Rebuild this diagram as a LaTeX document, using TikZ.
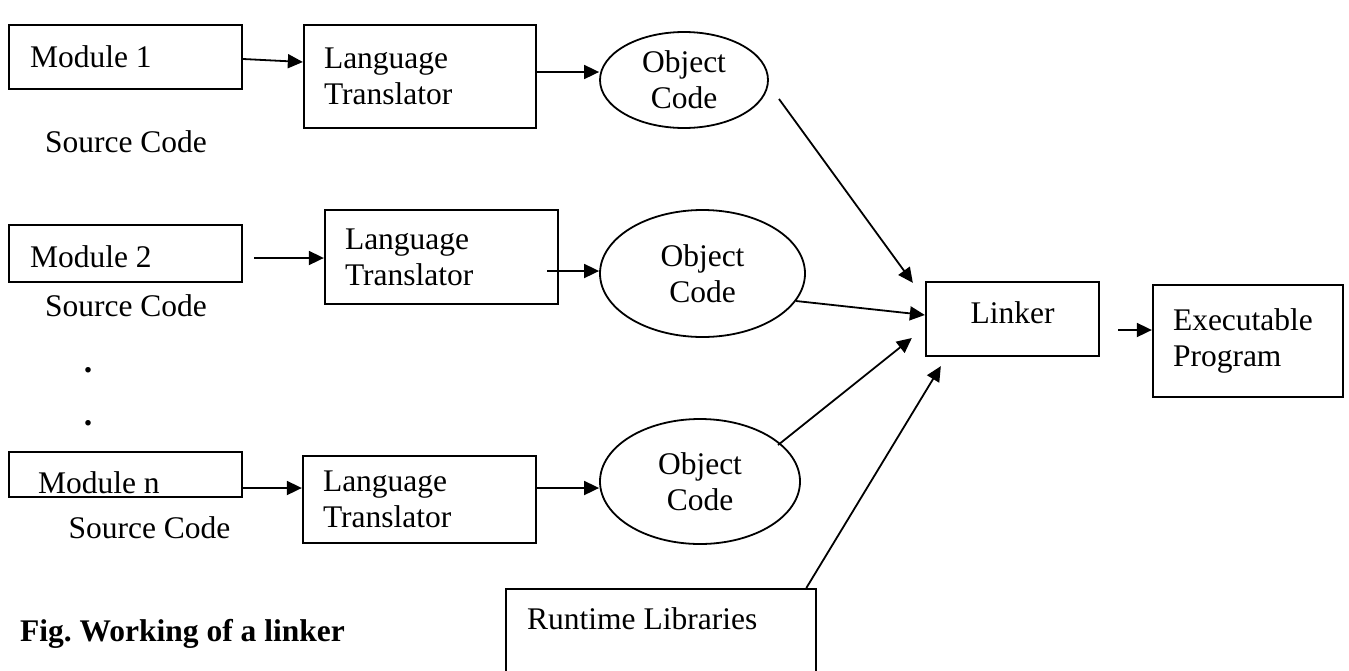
\documentclass[tikz,border=0pt]{standalone}
\usepackage{fontspec}
\setmainfont{Liberation Serif}
\usetikzlibrary{shapes.geometric,arrows.meta,calc}

\tikzset{
  txt/.style={font=\fontsize{31.5pt}{36pt}\selectfont\frenchspacing},
  box/.style={txt, draw, line width=2.3pt, rectangle, inner ysep=0pt, align=flush left},
  objcode/.style={txt, draw, ellipse, line width=1.8pt, inner sep=0pt, align=flush center},
  lbl/.style={txt, inner sep=0pt},
  conn/.style={line width=1.8pt, -{Triangle[length=15pt,width=14pt]}},
}

\begin{document}
\begin{tikzpicture}[x=1pt,y=-1pt]
  \useasboundingbox[fill=white] (0,0) rectangle (1349,670);

  % source modules
  \node[box, text width=191pt, inner xsep=21pt, minimum height=64pt] (m1) at (125.5,57) {Module 1};
  \node[box, text width=191pt, inner xsep=21pt, minimum height=57pt, text height=28pt] (m2) at (125.5,253.5) {Module 2};
  \node[box, text width=175pt, inner xsep=29pt, minimum height=45pt, text height=38pt] (mn) at (125.5,474.5) {Module n};

  \node[lbl] (sc1) at (126,142) {Source Code};
  \node[lbl] (sc2) at (126,306) {Source Code};
  \node[lbl] (scn) at (149.5,528) {Source Code};

  \node[lbl, font=\fontsize{34pt}{36pt}\selectfont\bfseries] (dot1) at (88,370) {.};
  \node[lbl, font=\fontsize{34pt}{36pt}\selectfont\bfseries] (dot2) at (88,423) {.};

  % translators
  \node[box, text width=192pt, inner xsep=20pt, minimum height=103pt] (lt1) at (420,76.5) {Language\\Translator};
  \node[box, text width=193pt, inner xsep=20pt, minimum height=94pt] (lt2) at (441.5,257) {Language\\Translator};
  \node[box, text width=193pt, inner xsep=20pt, minimum height=87pt] (ltn) at (419.5,499.5) {Language\\Translator};

  % object code
  \node[objcode, minimum width=168pt, minimum height=96pt] (oc1) at (684,80) {Object\\Code};
  \node[objcode, minimum width=205pt, minimum height=127pt] (oc2) at (702.5,273.5) {Object\\Code};
  \node[objcode, minimum width=200pt, minimum height=125pt] (ocn) at (700,481.5) {Object\\Code};

  % linker, output and libraries
  \node[box, align=flush center, text width=173pt, inner xsep=0pt, minimum height=74pt, text depth=12pt] (linker) at (1012.5,319) {Linker};
  \node[box, text width=150pt, inner xsep=20pt, minimum height=112pt] (exec) at (1248,341) {Executable\\Program};
  \node[box, anchor=north west, text width=268pt, inner xsep=21pt, minimum height=100pt] (rl) at (505,588) {Runtime Libraries\\[-5pt]\strut};

  \node[lbl, anchor=base west, font=\fontsize{31.5pt}{36pt}\selectfont\frenchspacing\bfseries] (cap) at (20,641) {Fig. Working of a linker};

  % connectors
  \draw[conn] ($(m1.east)+(0,2)$) -- ($(lt1.west)+(0,-14.5)$);
  \draw[conn] ($(lt1.east)+(0,-4.5)$) -- ($(oc1.west)+(0,-8)$);
  \draw[conn] ($(m2.east)+(11,4.5)$) -- ($(lt2.west)+(0,1)$);
  \draw[conn] ($(lt2.east)+(-12,14)$) -- ($(oc2.west)+(0,-2.5)$);
  \draw[conn] ($(mn.east)+(0,13.5)$) -- ($(ltn.west)+(0,-11.5)$);
  \draw[conn] ($(ltn.east)+(0,-11.5)$) -- ($(ocn.west)+(0,6.5)$);

  \draw[conn] ($(oc1)+(95,19)$) -- ($(linker.north west)+(-12,2)$);
  \draw[conn] ($(oc2)+(93.5,27.5)$) -- ($(linker.west)+(0,-4)$);
  \draw[conn] ($(ocn)+(78,-36.5)$) -- ($(linker.west)+(-13,19)$);
  \draw[conn] ($(rl.north east)+(-11,0)$) -- ($(linker.south west)+(16,9)$);
  \draw[conn] ($(linker.east)+(18,11)$) -- ($(exec.west)+(0,-11)$);
\end{tikzpicture}
\end{document}
